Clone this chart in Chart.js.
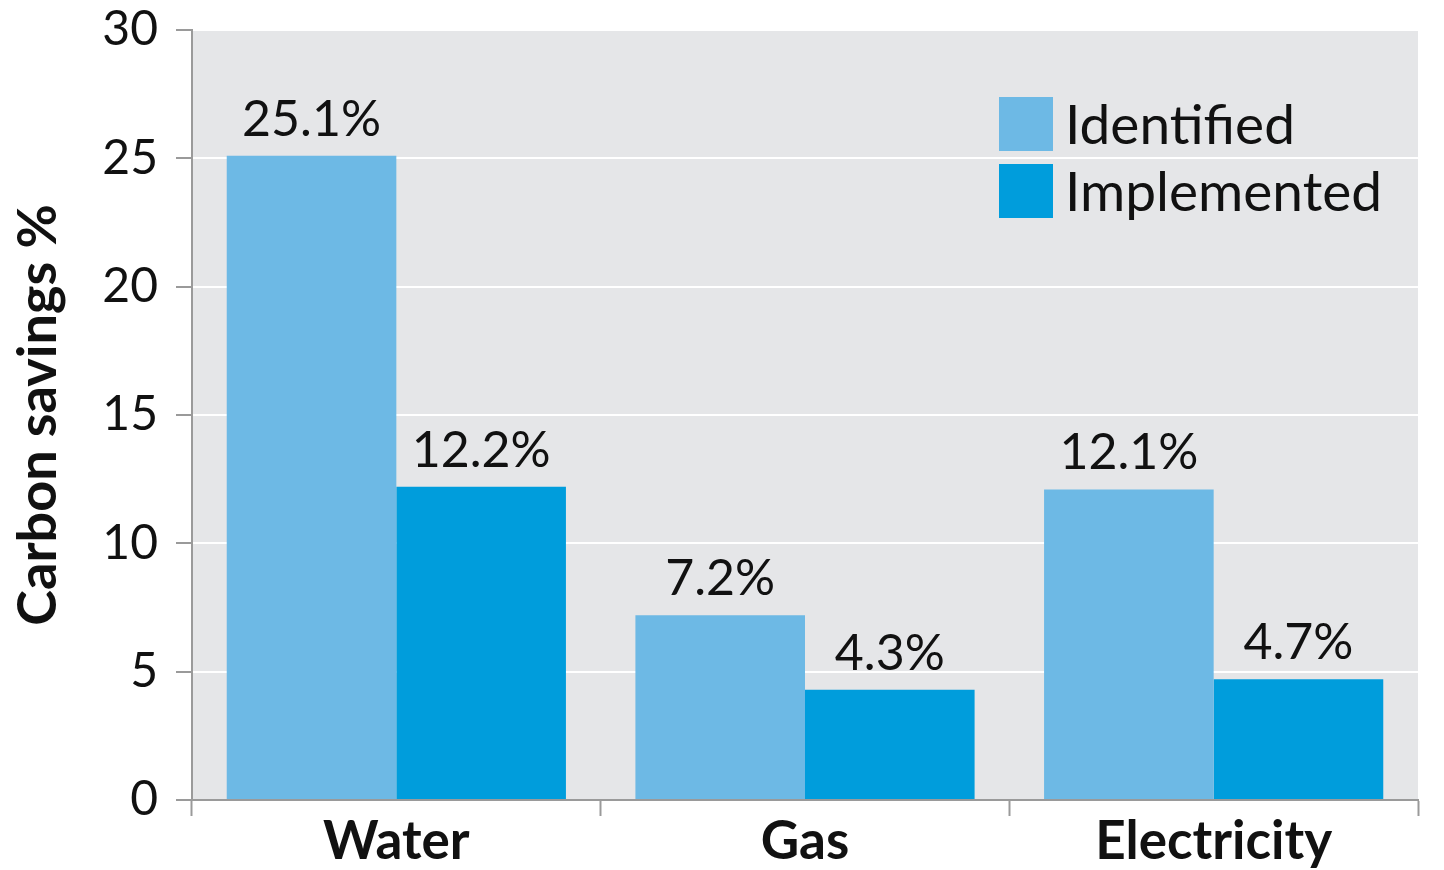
<!DOCTYPE html>
<html>
<head>
<meta charset="utf-8">
<script src="https://cdn.jsdelivr.net/npm/chart.js@4.4.1/dist/chart.umd.min.js"></script>
<style>
  html, body { margin: 0; padding: 0; background: #fff; }
  #wrap { width: 1444px; height: 870px; position: relative; }
</style>
</head>
<body>
<div id="wrap"><canvas id="savingsChart"></canvas></div>
<script>
// Carbon savings by utility: identified vs implemented
var categories = ['Water', 'Gas', 'Electricity'];
var identified = [25.1, 7.2, 12.1];
var implemented = [12.2, 4.3, 4.7];
var seriesNames = ['Identified', 'Implemented'];
var yTicks = [0, 5, 10, 15, 20, 25, 30];

var palette = {
    light:  '#6db9e5',
    strong: '#009ddc',
    plot:   '#e5e6e8',
    axis:   '#9a9a9a',
    text:   '#111111'
};
var FONT = "Lato, 'DejaVu Sans', sans-serif";

// grey plot background behind the bars
var plotBg = {
    id: 'plotBg',
    beforeDraw: function (chart) {
        var a = chart.chartArea, ctx = chart.ctx;
        ctx.save();
        ctx.fillStyle = palette.plot;
        ctx.fillRect(a.left, a.top, a.right - a.left, a.bottom - a.top);
        ctx.restore();
    }
};

// value labels above each bar
var barLabels = {
    id: 'barLabels',
    afterDatasetsDraw: function (chart) {
        var ctx = chart.ctx;
        ctx.save();
        ctx.font = '50px ' + FONT;
        ctx.fillStyle = palette.text;
        ctx.textAlign = 'center';
        ctx.textBaseline = 'alphabetic';
        chart.data.datasets.forEach(function (ds, i) {
            chart.getDatasetMeta(i).data.forEach(function (bar, j) {
                ctx.fillText(ds.data[j].toFixed(1) + '%', bar.x, bar.y - 20);
            });
        });
        ctx.restore();
    }
};

// legend box sitting inside the plot, top right
var insideLegend = {
    id: 'insideLegend',
    afterDraw: function (chart) {
        var ctx = chart.ctx;
        var x = 999, y = 97, box = 54, gap = 67;
        ctx.save();
        ctx.font = '55px ' + FONT;
        ctx.textBaseline = 'middle';
        ctx.textAlign = 'left';
        chart.data.datasets.forEach(function (ds, i) {
            var top = y + i * gap;
            ctx.fillStyle = ds.backgroundColor;
            ctx.fillRect(x, top, box, box);
            ctx.fillStyle = palette.text;
            ctx.fillText(ds.label, x + box + 12, top + box / 2 + 2);
        });
        ctx.restore();
    }
};

new Chart(document.getElementById('savingsChart'), {
    type: 'bar',
    data: {
        labels: categories,
        datasets: [{
            label: seriesNames[0],
            data: identified,
            backgroundColor: palette.light,
            categoryPercentage: 0.83,
            barPercentage: 1.0
        }, {
            label: seriesNames[1],
            data: implemented,
            backgroundColor: palette.strong,
            categoryPercentage: 0.83,
            barPercentage: 1.0
        }]
    },
    options: {
        responsive: true,
        maintainAspectRatio: false,
        animation: false,
        layout: { padding: { left: 6, top: 30, right: 26, bottom: 0 } },
        plugins: {
            legend: { display: false },
            tooltip: { enabled: false }
        },
        scales: {
            x: {
                afterFit: function (s) { s.height = 70; },
                border: { color: palette.axis, width: 2 },
                grid: {
                    drawOnChartArea: false,
                    drawTicks: true,
                    tickLength: 16,
                    tickColor: palette.axis,
                    tickWidth: 2
                },
                ticks: {
                    color: palette.text,
                    padding: -6,
                    font: { family: FONT, size: 53, weight: 'bold' }
                }
            },
            y: {
                min: 0,
                max: 30,
                afterFit: function (s) {
                    s.width = 186;
                    s.paddingTop = 0;
                    s.paddingBottom = 0;
                },
                afterBuildTicks: function (s) {
                    s.ticks = yTicks.map(function (v) { return { value: v }; });
                },
                border: { color: palette.axis, width: 2 },
                grid: {
                    color: '#ffffff',
                    lineWidth: 2,
                    tickLength: 16,
                    tickColor: palette.axis,
                    tickWidth: 2
                },
                ticks: {
                    color: palette.text,
                    padding: 18,
                    font: { family: FONT, size: 48 }
                },
                title: {
                    display: true,
                    text: 'Carbon savings %',
                    color: palette.text,
                    padding: 0,
                    font: { family: FONT, size: 54, weight: 'bold' }
                }
            }
        }
    },
    plugins: [plotBg, barLabels, insideLegend]
});
</script>
</body>
</html>
